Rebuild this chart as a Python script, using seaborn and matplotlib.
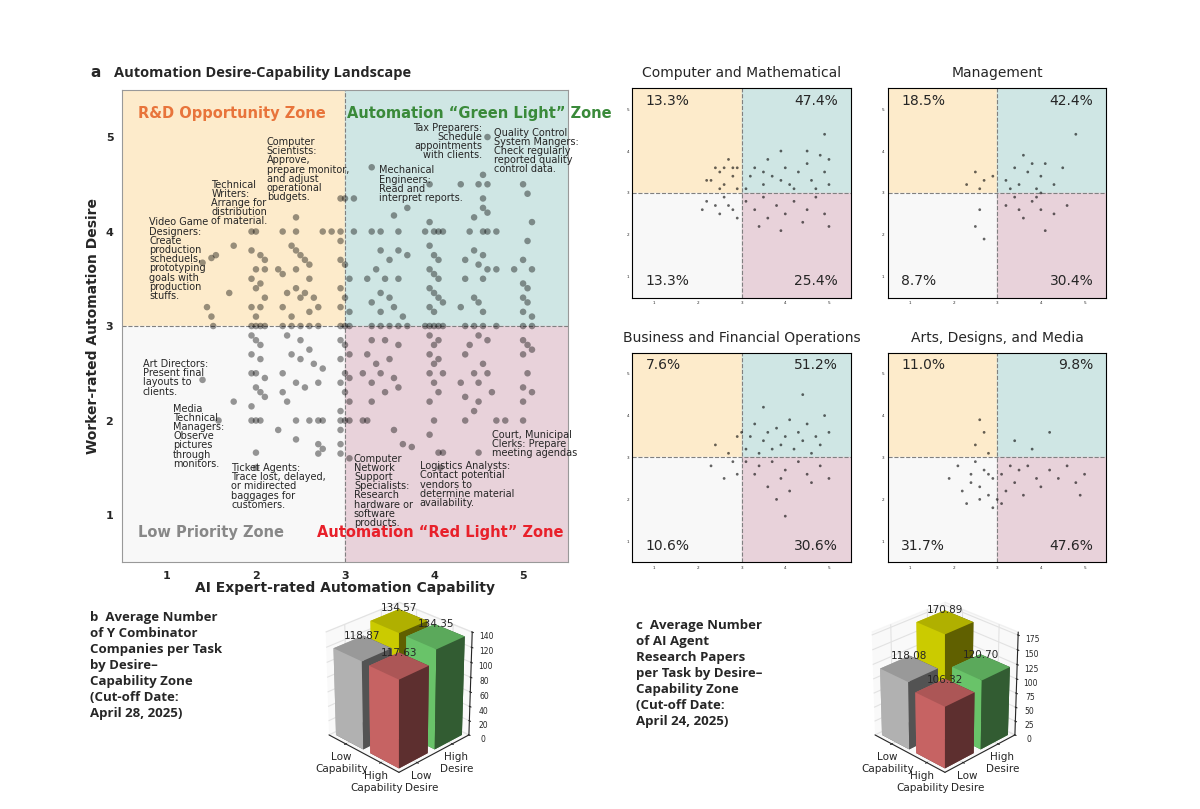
import numpy as np
import pandas as pd
import seaborn as sns
import matplotlib.pyplot as plt
from mpl_toolkits.mplot3d import Axes3D  # noqa

sns.set_style('white')
plt.rcParams['font.family'] = ['DejaVu Sans']

# ---- data: main landscape (capability, desire)
main_pts = [(1.4,3.67),(1.5,3.72),(1.55,3.75),(1.75,3.85),(1.45,3.2),(1.5,3.1),(1.52,3.0),(1.7,3.35),(1.4,2.43),(1.58,2.0),
 (1.95,4),(2.0,4),(1.95,3.8),(2.05,3.75),(2.1,3.7),(2.0,3.6),(2.1,3.6),(1.95,3.5),(2.05,3.45),(2.0,3.4),(2.1,3.3),(2.05,3.2),(1.95,3.2),(2.0,3.1),(1.95,3.0),(2.0,3.0),(2.05,3.0),(2.1,3.0),(1.95,2.9),(2.0,2.85),(2.05,2.8),(1.95,2.7),(2.05,2.65),(2.0,2.5),(1.95,2.5),(2.1,2.45),(2.0,2.35),(2.05,2.3),(2.1,2.25),(1.95,2.15),(2.0,2.0),(1.95,2.0),(2.05,2.0),(2.0,1.66),(2.0,1.5),(1.75,2.2),
 (2.3,4),(2.45,4),(2.4,3.85),(2.45,3.8),(2.5,3.75),(2.6,3.65),(2.55,3.7),(2.25,3.6),(2.3,3.55),(2.45,3.6),(2.6,3.5),(2.45,3.4),(2.35,3.35),(2.55,3.35),(2.5,3.3),(2.65,3.3),(2.3,3.2),(2.6,3.15),(2.7,3.2),(2.4,3.1),(2.3,3.0),(2.4,3.0),(2.5,3.0),(2.6,3.0),(2.7,3.0),(2.35,2.9),(2.5,2.85),(2.6,2.75),(2.4,2.7),(2.5,2.65),(2.65,2.6),(2.75,2.55),(2.3,2.5),(2.45,2.4),(2.55,2.35),(2.7,2.4),(2.3,2.3),(2.35,2.2),(2.6,2.0),(2.7,2.0),(2.75,2.0),(2.45,2.0),(2.25,1.9),(2.45,1.8),(2.7,1.75),(2.75,1.7),(2.7,1.65),(2.45,4.15),(2.75,4),(2.85,4),
 (2.95,4.35),(3.0,4.35),(2.95,4.0),(2.95,3.9),(2.95,3.7),(3.0,3.65),(3.05,3.5),(2.95,3.4),(3.0,3.3),(2.95,3.2),(3.05,3.15),(3.0,3.0),(2.95,3.0),(3.05,3.0),(2.95,2.85),(3.0,2.8),(3.05,2.7),(2.95,2.65),(3.0,2.5),(3.05,2.45),(2.95,2.4),(3.0,2.3),(3.05,2.2),(2.95,2.1),(3.0,2.0),(2.95,2.0),(3.05,2.0),(2.95,1.9),(2.95,1.75),(2.95,1.65),(3.05,1.6),(3.1,4.35),(3.1,4.0),
 (3.3,4.68),(3.3,4.0),(3.4,4.0),(3.6,4.0),(3.55,4.17),(3.7,4.25),(3.4,3.8),(3.6,3.8),(3.5,3.7),(3.35,3.6),(3.7,3.75),(3.25,3.5),(3.45,3.5),(3.6,3.5),(3.4,3.35),(3.5,3.3),(3.3,3.25),(3.55,3.2),(3.4,3.15),(3.65,3.1),(3.3,3.0),(3.4,3.0),(3.5,3.0),(3.6,3.0),(3.7,3.0),(3.3,2.85),(3.45,2.85),(3.6,2.8),(3.25,2.7),(3.5,2.65),(3.35,2.6),(3.2,2.5),(3.4,2.5),(3.55,2.45),(3.3,2.4),(3.45,2.3),(3.6,2.35),(3.3,2.2),(3.2,2.0),(3.25,2.0),(3.55,1.9),(3.65,1.75),(3.75,1.72),
 (3.95,4.5),(3.95,4.1),(3.9,4.0),(4.0,4.0),(4.05,4.0),(4.1,4.0),(3.95,3.85),(4.0,3.75),(4.05,3.7),(3.95,3.6),(4.0,3.55),(4.05,3.5),(3.95,3.4),(4.0,3.35),(4.05,3.3),(4.1,3.25),(3.95,3.2),(4.0,3.15),(3.9,3.0),(3.95,3.0),(4.0,3.0),(4.05,3.0),(4.1,3.0),(3.95,2.9),(4.05,2.85),(4.0,2.8),(3.95,2.7),(4.05,2.65),(4.0,2.6),(3.95,2.5),(4.1,2.5),(4.0,2.4),(4.05,2.3),(3.95,2.2),(4.0,2.0),(3.95,1.85),(4.05,1.66),(4.1,1.66),(4.07,1.5),
 (4.3,4.5),(4.5,4.5),(4.6,4.5),(4.55,4.6),(4.55,4.35),(4.55,4.25),(4.45,4.15),(4.6,4.2),(4.4,4.0),(4.55,4.0),(4.6,4.0),(4.7,4.0),(4.45,3.8),(4.55,3.75),(4.35,3.7),(4.5,3.65),(4.6,3.6),(4.7,3.6),(4.35,3.5),(4.55,3.5),(4.45,3.3),(4.5,3.25),(4.3,3.2),(4.55,3.15),(4.35,3.0),(4.45,3.0),(4.55,3.0),(4.7,3.0),(4.5,2.9),(4.6,2.85),(4.4,2.8),(4.35,2.7),(4.55,2.6),(4.45,2.5),(4.6,2.5),(4.5,2.4),(4.3,2.4),(4.65,2.3),(4.35,2.25),(4.5,2.2),(4.45,2.1),(4.35,2.0),(4.7,2.0),(4.5,1.66),(4.6,5.0),
 (5.0,4.5),(5.05,4.4),(5.1,4.1),(5.05,3.9),(5.0,3.7),(5.1,3.6),(5.0,3.45),(5.05,3.4),(5.0,3.3),(5.05,3.25),(5.0,3.15),(5.1,3.1),(5.0,3.0),(5.1,3.0),(5.0,2.85),(5.05,2.8),(5.1,2.75),(5.0,2.7),(5.05,2.5),(5.0,2.35),(5.1,2.3),(5.0,2.2),(5.0,2.0),(4.8,2.0),(4.9,3.6)]

# ---- small panels
small_titles = ['Computer and Mathematical', 'Management',
                'Business and Financial Operations', 'Arts, Designs, and Media']
# percentages: (upper-left, upper-right, lower-left, lower-right)
small_pcts = [('13.3%', '47.4%', '13.3%', '25.4%'),
              ('18.5%', '42.4%', '8.7%', '30.4%'),
              ('7.6%', '51.2%', '10.6%', '30.6%'),
              ('11.0%', '9.8%', '31.7%', '47.6%')]
small_pts = [
 [(2.3,3.3),(2.4,3.6),(2.5,3.5),(2.6,3.2),(2.7,3.8),(2.8,3.4),(2.9,3.1),(2.2,3.3),(2.6,3.6),(2.8,3.6),(2.5,3.1),(2.9,3.6),
  (3.2,3.4),(3.3,3.6),(3.5,3.2),(3.6,3.8),(3.7,3.4),(3.9,3.3),(4.0,3.6),(4.1,3.2),(4.3,3.5),(4.5,3.7),(4.6,3.3),(4.8,3.9),(4.9,3.5),(5.0,3.2),(4.9,4.4),(4.5,4.0),(3.9,4.0),(3.5,3.5),(4.2,3.1),(4.7,3.1),(5.0,3.8),(3.1,3.1),
  (2.2,2.8),(2.4,2.7),(2.6,2.9),(2.8,2.6),(2.9,2.4),(2.5,2.5),(2.1,2.6),(2.7,2.7),
  (3.1,2.8),(3.3,2.6),(3.5,2.9),(3.6,2.4),(3.8,2.7),(4.0,2.5),(4.2,2.8),(4.4,2.3),(4.5,2.6),(4.7,2.9),(4.9,2.5),(5.0,2.2),(3.9,2.1),(3.4,2.2)],
 [(2.3,3.2),(2.5,3.5),(2.7,3.3),(2.9,3.4),(2.6,3.1),
  (3.2,3.3),(3.4,3.6),(3.5,3.2),(3.7,3.5),(3.9,3.1),(4.0,3.4),(4.1,3.7),(4.3,3.2),(4.5,3.6),(4.8,4.4),(3.6,3.9),(3.3,3.1),(4.0,3.0),(3.8,3.7),
  (2.5,2.2),(2.6,2.6),(2.7,1.9),
  (3.2,2.7),(3.4,2.9),(3.6,2.4),(3.8,2.8),(4.0,2.6),(4.1,2.1),(4.3,2.5),(4.6,2.7),(3.9,2.9),(3.5,2.6)],
 [(2.4,3.3),(2.7,3.1),(2.9,3.5),
  (3.1,3.2),(3.2,3.5),(3.3,3.8),(3.4,3.1),(3.5,3.4),(3.6,3.6),(3.7,3.2),(3.8,3.7),(3.9,3.3),(4.0,3.5),(4.1,3.9),(4.2,3.2),(4.3,3.6),(4.4,3.4),(4.5,3.8),(4.6,3.1),(4.7,3.5),(4.8,3.3),(5.0,3.6),(4.9,4.0),(3.5,4.2),(4.4,4.5),(3.0,3.6),
  (2.3,2.8),(2.6,2.5),(2.8,2.9),(2.9,2.6),
  (3.1,2.9),(3.3,2.6),(3.4,2.8),(3.6,2.3),(3.7,2.9),(3.9,2.5),(4.0,2.7),(4.1,2.2),(4.3,2.9),(4.5,2.6),(4.6,2.4),(4.8,2.8),(4.0,1.6),(3.8,2.0),(5.0,2.5)],
 [(2.5,3.3),(2.7,3.6),(2.8,3.1),(2.6,3.9),
  (3.4,3.4),(3.8,3.2),(4.2,3.6),
  (1.9,2.5),(2.1,2.8),(2.2,2.2),(2.4,2.6),(2.5,2.9),(2.6,2.3),(2.7,2.7),(2.8,2.1),(2.9,2.5),(2.3,1.9),(2.6,2.0),(2.9,1.8),(2.4,2.4),(2.8,2.6),
  (3.1,2.6),(3.2,2.2),(3.3,2.8),(3.4,2.4),(3.5,2.7),(3.6,2.1),(3.7,2.8),(3.9,2.5),(4.0,2.3),(4.2,2.7),(4.4,2.5),(4.6,2.8),(4.8,2.4),(5.0,2.6),(3.0,2.0),(3.1,1.9),(4.9,2.1)]]

# ---- 3d bars: (capability idx, desire idx, value), listed back to front
bars_b = [(0, 1, 134.57), (0, 0, 118.87), (1, 1, 134.35), (1, 0, 117.63)]
bars_c = [(0, 1, 170.89), (0, 0, 118.08), (1, 1, 120.70), (1, 0, 106.32)]
bar_colors = {(0, 1): '#e6e600', (0, 0): '#c8c8c8', (1, 1): '#77dd77', (1, 0): '#e07070'}

zone_cols = {'ul': '#fdebcb', 'ur': '#cfe6e4', 'll': '#f8f8f8', 'lr': '#e8d2da'}

fig = plt.figure(figsize=(12, 8.09), dpi=100)


def shade(ax, lo, hi):
    ax.axvspan(lo, 3, ymin=0.5, ymax=1, color=zone_cols['ul'], zorder=0)
    ax.axvspan(3, hi, ymin=0.5, ymax=1, color=zone_cols['ur'], zorder=0)
    ax.axvspan(lo, 3, ymin=0, ymax=0.5, color=zone_cols['ll'], zorder=0)
    ax.axvspan(3, hi, ymin=0, ymax=0.5, color=zone_cols['lr'], zorder=0)
    ax.axvline(3, color='gray', ls='--', lw=0.8)
    ax.axhline(3, color='gray', ls='--', lw=0.8)


# ---- 3d bars (drawn first so the scatter panel sits on top)
def bar_panel(rect, bars, zmax, zticks):
    a3 = fig.add_axes(rect, projection='3d', computed_zorder=False)
    a3.set_facecolor('none')
    for k, (cx, dy, v) in enumerate(bars):
        a3.bar3d(cx, dy, 0, 0.8, 0.8, v, color=bar_colors[(cx, dy)], shade=True,
                 edgecolor='none', zorder=2 + k)
    for cx, dy, v in bars:
        a3.text(cx + 0.4, dy + 0.4, v + zmax * 0.09, '%.2f' % v, fontsize=7.5, ha='center', zorder=20)
    a3.view_init(elev=28, azim=-45)
    a3.set_box_aspect((1, 1, 1.15), zoom=0.82)
    a3.set_xlim(-0.1, 1.9)
    a3.set_ylim(-0.1, 1.9)
    a3.set_zlim(0, zmax)
    a3.set_xticks([0.4, 1.4])
    a3.set_xticklabels(['Low\nCapability', 'High\nCapability'], fontsize=7.5)
    a3.set_yticks([0.4, 1.4])
    a3.set_yticklabels(['Low\nDesire', 'High\nDesire'], fontsize=7.5)
    a3.set_zticks(zticks)
    a3.tick_params(axis='z', labelsize=5.5, pad=0)
    a3.tick_params(axis='x', pad=-3)
    a3.tick_params(axis='y', pad=-3)
    for axis in (a3.xaxis, a3.yaxis, a3.zaxis):
        axis.pane.set_facecolor('#f4f4f4')
        axis._axinfo['grid']['color'] = '#e2e2e2'
    return a3


bar_panel([0.2, 0.015, 0.26, 0.27], bars_b, 140, range(0, 141, 20))
bar_panel([0.655, 0.015, 0.26, 0.27], bars_c, 180, range(0, 176, 25))

# ---- panel a
ax = fig.add_axes([0.102, 0.305, 0.371, 0.584])
df = pd.DataFrame(main_pts, columns=['cap', 'des'])
shade(ax, 0.5, 5.5)
sns.scatterplot(data=df, x='cap', y='des', ax=ax, color='black', alpha=0.4, s=22, edgecolor='none', zorder=3)
ax.set_xlim(0.5, 5.5)
ax.set_ylim(0.5, 5.5)
ax.set_xticks([1, 2, 3, 4, 5])
ax.set_yticks([1, 2, 3, 4, 5])
ax.tick_params(labelsize=8, length=3)
for t in ax.get_xticklabels() + ax.get_yticklabels():
    t.set_fontweight('bold')
ax.set_xlabel('AI Expert-rated Automation Capability', fontsize=10, fontweight='bold', labelpad=0)
ax.set_ylabel('Worker-rated Automation Desire', fontsize=10, fontweight='bold')
for s in ax.spines.values():
    s.set_color('#999999')
ax.text(0.68, 5.25, 'R&D Opportunity Zone', color='#e8743b', fontsize=10.5, fontweight='bold', va='center')
ax.text(3.02, 5.25, 'Automation \u201cGreen Light\u201d Zone', color='#3a8a3a', fontsize=10.5, fontweight='bold', va='center')
ax.text(0.68, 0.82, 'Low Priority Zone', color='#888888', fontsize=10.5, fontweight='bold', va='center')
ax.text(5.45, 0.82, 'Automation \u201cRed Light\u201d Zone', color='#e8202a', fontsize=10.5, fontweight='bold', va='center', ha='right')
notes = [(0.8, 4.15, 'Video Game\nDesigners:\nCreate\nproduction\nscheduels,\nprototyping\ngoals with\nproduction\nstuffs.', 'left'),
         (1.5, 4.55, 'Technical\nWriters:\nArrange for\ndistribution\nof material.', 'left'),
         (2.12, 5.0, 'Computer\nScientists:\nApprove,\nprepare monitor,\nand adjust\noperational\nbudgets.', 'left'),
         (3.38, 4.7, 'Mechanical\nEngineers:\nRead and\ninterpret reports.', 'left'),
         (4.54, 5.15, 'Tax Preparers:\nSchedule\nappointments\nwith clients.', 'right'),
         (4.67, 5.1, 'Quality Control\nSystem Mangers:\nCheck regularly\nreported quality\ncontrol data.', 'left'),
         (0.73, 2.65, 'Art Directors:\nPresent final\nlayouts to\nclients.', 'left'),
         (1.07, 2.18, 'Media\nTechnical\nManagers:\nObserve\npictures\nthrough\nmonitors.', 'left'),
         (1.72, 1.55, 'Ticket Agents:\nTrace lost, delayed,\nor midirected\nbaggages for\ncustomers.', 'left'),
         (3.1, 1.65, 'Computer\nNetwork\nSupport\nSpecialists:\nResearch\nhardware or\nsoftware\nproducts.', 'left'),
         (3.84, 1.57, 'Logistics Analysts:\nContact potential\nvendors to\ndetermine material\navailability.', 'left'),
         (4.65, 1.9, 'Court, Municipal\nClerks: Prepare\nmeeting agendas', 'left')]
for x, y, s, ha in notes:
    ax.text(x, y, s, fontsize=7, va='top', ha=ha, linespacing=0.9, zorder=4)
fig.text(0.075, 0.905, 'a', fontsize=11, fontweight='bold')
fig.text(0.095, 0.905, 'Automation Desire-Capability Landscape', fontsize=10.5, fontweight='bold', family='Open Sans')

# ---- small panels
pos = [[0.527, 0.632, 0.182, 0.259], [0.74, 0.632, 0.182, 0.259],
       [0.527, 0.305, 0.182, 0.259], [0.74, 0.305, 0.182, 0.259]]
for i in range(4):
    a = fig.add_axes(pos[i])
    shade(a, 0.5, 5.5)
    d = pd.DataFrame(small_pts[i], columns=['cap', 'des'])
    sns.scatterplot(data=d, x='cap', y='des', ax=a, color='black', alpha=0.6, s=4, edgecolor='none', zorder=3)
    a.set_xlim(0.5, 5.5)
    a.set_ylim(0.5, 5.5)
    a.set_xticks([1, 2, 3, 4, 5])
    a.set_yticks([1, 2, 3, 4, 5])
    a.tick_params(labelsize=3, length=1.5, pad=1)
    a.set_xlabel('')
    a.set_ylabel('')
    for s in a.spines.values():
        s.set_color('black')
        s.set_linewidth(0.8)
    a.set_title(small_titles[i], fontsize=10, pad=8)
    ul, ur, ll, lr = small_pcts[i]
    a.text(0.8, 5.1, ul, fontsize=10)
    a.text(5.2, 5.1, ur, fontsize=10, ha='right')
    a.text(0.8, 0.8, ll, fontsize=10)
    a.text(5.2, 0.8, lr, fontsize=10, ha='right')

fig.text(0.075, 0.245, 'b  Average Number\nof Y Combinator\nCompanies per Task\nby Desire\u2013\nCapability Zone\n(Cut-off Date:\nApril 28, 2025)',
         fontsize=9.5, fontweight='bold', va='top', family='Open Sans', linespacing=1.3)
fig.text(0.53, 0.235, 'c  Average Number\nof AI Agent\nResearch Papers\nper Task by Desire\u2013\nCapability Zone\n(Cut-off Date:\nApril 24, 2025)',
         fontsize=9.5, fontweight='bold', va='top', family='Open Sans', linespacing=1.3)

fig.savefig('out.png', dpi=100)
